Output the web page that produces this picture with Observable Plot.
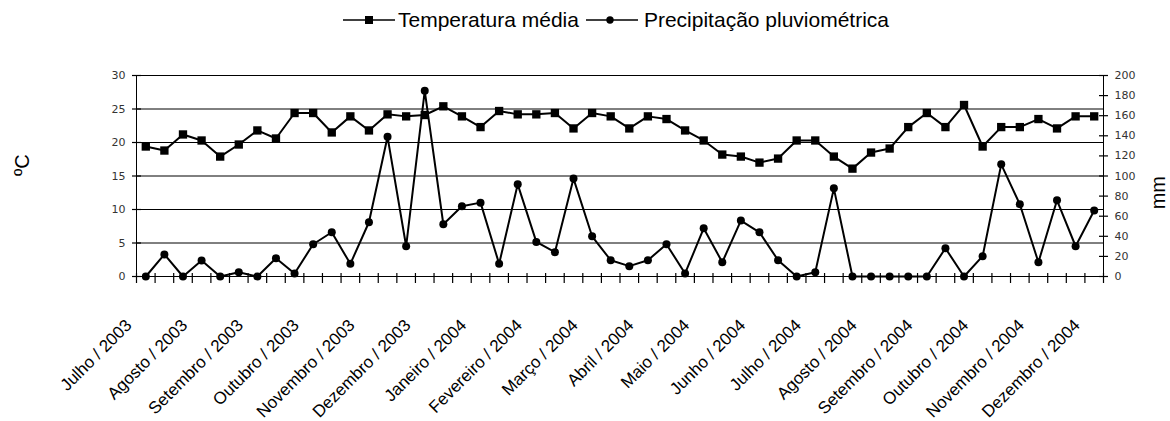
<!DOCTYPE html>
<html>
<head>
<meta charset="utf-8">
<script src="https://cdn.jsdelivr.net/npm/d3@7"></script>
<script src="https://cdn.jsdelivr.net/npm/@observablehq/plot@0.6"></script>
<style>
  html, body { margin: 0; padding: 0; background: #fff; }
  #wrap { position: relative; width: 1170px; height: 421px; }
  #legend { position: absolute; top: 0; left: 343px; height: 40px; display: flex; align-items: center;
            font-family: "Liberation Sans", Arial, sans-serif; font-size: 21px; color: #000; white-space: nowrap; }
  #legend svg { display: block; }
</style>
</head>
<body>
<div id="wrap">
  <div id="legend">
    <svg width="52" height="14"><line x1="0" x2="52" y1="7" y2="7" stroke="#000" stroke-width="1.6"></line><rect x="22" y="3" width="8" height="8" fill="#000"></rect></svg>
    <span style="margin-left:3px;">Temperatura média</span>
    <svg width="52" height="14" style="margin-left:7px;"><line x1="0" x2="52" y1="7" y2="7" stroke="#000" stroke-width="1.6"></line><circle cx="24" cy="7" r="3.7" fill="#000"></circle></svg>
    <span style="margin-left:6px;">Precipitação pluviométrica</span>
  </div>
  <div id="chart"></div>
</div>
<script>
// ---- data ----
const monthLabels = ["Julho / 2003","Agosto / 2003","Setembro / 2003","Outubro / 2003","Novembro / 2003","Dezembro / 2003","Janeiro / 2004","Fevereiro / 2004","Março / 2004","Abril / 2004","Maio / 2004","Junho / 2004","Julho / 2004","Agosto / 2004","Setembro / 2004","Outubro / 2004","Novembro / 2004","Dezembro / 2004"];
const temperatura = [19.4, 18.8, 21.2, 20.3, 17.9, 19.7, 21.8, 20.6, 24.4, 24.4, 21.5, 23.9, 21.8, 24.2, 23.9, 24.1, 25.4, 23.9, 22.3, 24.7, 24.2, 24.2, 24.4, 22.1, 24.4, 23.9, 22.1, 23.9, 23.5, 21.8, 20.3, 18.2, 17.9, 17.0, 17.6, 20.3, 20.3, 17.9, 16.1, 18.5, 19.1, 22.3, 24.4, 22.3, 25.6, 19.4, 22.3, 22.3, 23.5, 22.1, 23.9, 23.9];
const precipitacao = [0, 22, 0, 16, 0, 4.3, 0, 18.2, 3, 32.1, 44, 12.6, 54, 139, 30.1, 184.8, 52, 69.9, 73.5, 12.6, 91.7, 34.4, 24.2, 97.4, 40, 16.2, 10.3, 16.2, 32.1, 3, 48, 14.2, 55.6, 44, 16.2, 0, 4.3, 87.7, 0, 0, 0, 0, 0, 28.1, 0, 20.2, 111.6, 71.9, 14.2, 75.8, 30.1, 65.6];
const tempTicks = [0, 5, 10, 15, 20, 25, 30];
const precTicks = [0, 20, 40, 60, 80, 100, 120, 140, 160, 180, 200];
const labelsEvery = 3;

// ---- layout ----
const W = 1170, H = 421, mL = 136, mR = 67, mT = 75, mB = 145;

// ---- derived tables ----
const n = temperatura.length;
const K = 30 / 200; // mm -> °C axis mapping (secondary axis)
const rows = temperatura.map((t, i) => ({i, t, p: precipitacao[i]}));
const boundaries = d3.range(n + 1).map(i => i - 0.5);
const labelIdx = d3.range(0, n, labelsEvery);
const xMin = -0.5, xMax = n - 0.5;
const yMin = 0, yMax = 30;
// pixel -> data unit helpers for tick-mark lengths
const pxY = (H - mT - mB) / (yMax - yMin);
const pxX = (W - mL - mR) / (xMax - xMin);
const tickFont = "DejaVu Sans, Verdana, sans-serif";
const textFont = "Liberation Sans, Arial, sans-serif";

const chart = Plot.plot({
  width: W,
  height: H,
  marginLeft: mL,
  marginRight: mR,
  marginTop: mT,
  marginBottom: mB,
  style: {background: "white", color: "black", fontFamily: tickFont, fontSize: "11px"},
  x: {type: "linear", domain: [xMin, xMax]},
  y: {domain: [yMin, yMax]},
  marks: [
    Plot.gridY(tempTicks, {stroke: "black", strokeOpacity: 1, strokeWidth: 1}),
    // axis lines
    Plot.ruleX([xMin, xMax], {y1: yMin, y2: yMax, stroke: "black", strokeWidth: 1}),
    Plot.ruleY([yMin], {stroke: "black", strokeWidth: 1}),
    // tick marks crossing the axes
    Plot.ruleX(boundaries, {x: d => d, y1: -7 / pxY, y2: 3 / pxY, stroke: "black", strokeWidth: 1.2}),
    Plot.ruleY(tempTicks, {y: d => d, x1: xMin - 4 / pxX, x2: xMin + 5 / pxX, stroke: "black", strokeWidth: 1.2}),
    Plot.ruleY(precTicks, {y: d => d * K, x1: xMax - 4 / pxX, x2: xMax + 5 / pxX, stroke: "black", strokeWidth: 1.2}),
    // tick labels
    Plot.axisY({anchor: "left", ticks: tempTicks, tickSize: 0, tickPadding: 11, fill: "#333", fontFamily: tickFont, fontSize: 11, label: null}),
    Plot.axisY({anchor: "right", ticks: precTicks.map(p => p * K), tickFormat: d => String(Math.round(d / K)), tickSize: 0, tickPadding: 11, fill: "#333", fontFamily: tickFont, fontSize: 11, label: null}),
    Plot.axisX({anchor: "bottom", ticks: labelIdx, tickFormat: i => monthLabels[Math.round(i / labelsEvery)], tickRotate: -45, tickSize: 0, tickPadding: 0, dy: 46, dx: -17, fontFamily: textFont, fontSize: 17, fill: "black", label: null}),
    // axis titles
    Plot.text(["ºC"], {frameAnchor: "left", dx: -114, rotate: -90, fontSize: 20, fontFamily: textFont, fill: "black"}),
    Plot.text(["mm"], {frameAnchor: "right", dx: 55, rotate: -90, fontSize: 20, fontFamily: textFont, fill: "black"}),
    // series
    Plot.line(rows, {x: "i", y: "t", stroke: "black", strokeWidth: 2}),
    Plot.dot(rows, {x: "i", y: "t", symbol: "square", r: 4.7, fill: "black", stroke: "none"}),
    Plot.line(rows, {x: "i", y: d => d.p * K, stroke: "black", strokeWidth: 2}),
    Plot.dot(rows, {x: "i", y: d => d.p * K, symbol: "circle", r: 4, fill: "black", stroke: "none"})
  ]
});
document.getElementById("chart").appendChild(chart);
</script>
</body>
</html>
